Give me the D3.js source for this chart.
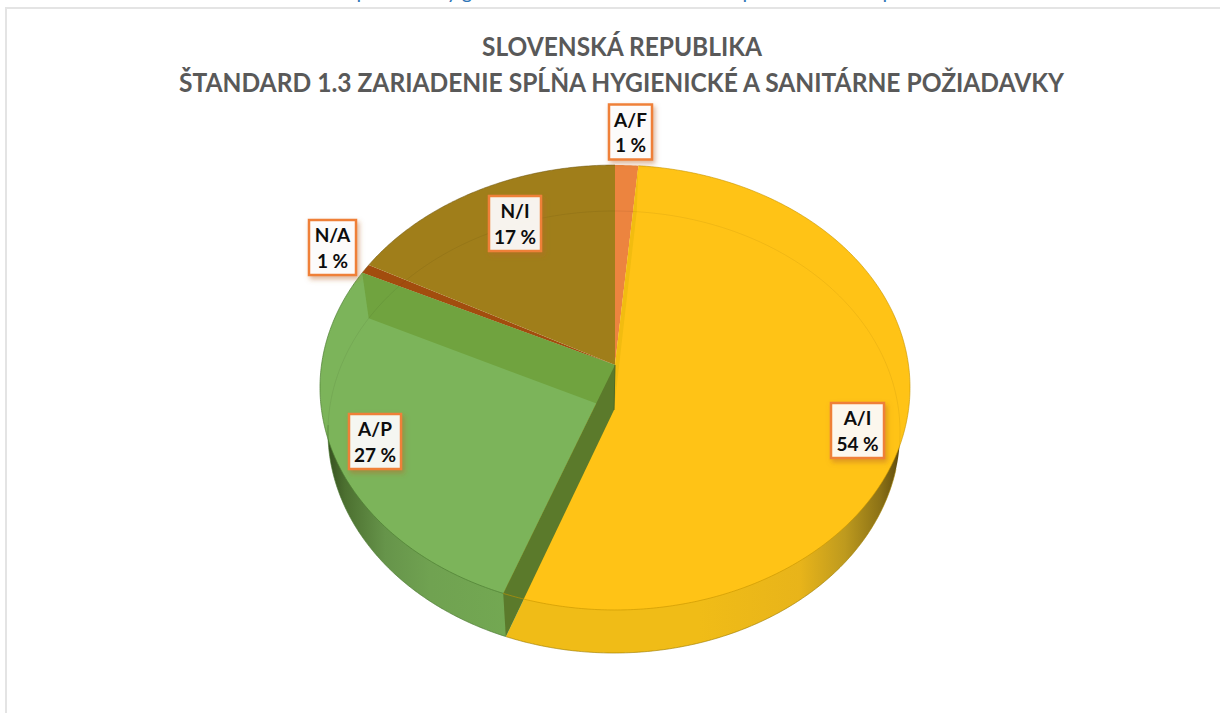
<!DOCTYPE html>
<html><head><meta charset="utf-8">
<script src="https://cdn.jsdelivr.net/npm/d3@7"></script>
<style>html,body{margin:0;padding:0;background:#fff;overflow:hidden}svg{display:block}</style>
</head><body><svg id="c" width="1220" height="713"></svg>
<script>
const titleLines = ["SLOVENSKÁ REPUBLIKA", "ŠTANDARD 1.3 ZARIADENIE SPĹŇA HYGIENICKÉ A SANITÁRNE POŽIADAVKY"];
const categories = ["A/F", "A/I", "A/P", "N/A", "N/I"];
const shares = [1.4, 54.2, 26.6, 0.7, 17.1];
const shareLabels = ["1 %", "54 %", "27 %", "1 %", "17 %"];
const faceColors = ["#EC843F", "#FFC316", "#7CB45A", "#A24D0E", "#A07E1A"];
const labelCentres = [[630.5, 132], [857.5, 430.5], [375, 441.5], [332.5, 247.5], [515, 223.5]];
const clippedGlyphs = [["p", 362], ["y", 452], ["g", 467], ["p", 748], ["p", 888]];

const svg = d3.select("#c");
const defs = svg.append("defs");
const FONT = "Lato, 'Open Sans', sans-serif";

function grad(id, stops) {
  const g = defs.append("linearGradient").attr("id", id).attr("gradientUnits", "userSpaceOnUse")
    .attr("x1", stops[0][0]).attr("x2", stops[stops.length - 1][0]).attr("y1", 0).attr("y2", 0);
  const x0 = stops[0][0], x1 = stops[stops.length - 1][0];
  stops.forEach(s => g.append("stop").attr("offset", (s[0] - x0) / (x1 - x0)).attr("stop-color", s[1]));
}
grad("wallY", [[700, "#F0BC17"], [800, "#E8B41A"], [845, "#BE9A1E"], [880, "#8C7216"], [895, "#6A5510"], [906, "#3F320A"]]);
grad("wallG", [[326, "#344D1E"], [345, "#4C7030"], [385, "#66944A"], [430, "#70A251"], [510, "#73A852"]]);
const fs = defs.append("filter").attr("id", "sh").attr("x", "-30%").attr("y", "-30%").attr("width", "170%").attr("height", "170%");
fs.append("feDropShadow").attr("dx", 2).attr("dy", 3).attr("stdDeviation", 2.5).attr("flood-color", "#B8662A").attr("flood-opacity", 0.5);

// Perspective projection of the pie: a circle seen from the front-top
const top_ = {cx: 615, ay: 365, k: 0.1011, rx: 293.5, ry: 220.2};
const bot_ = {cx: 614, ay: 410, k: 0.0996, rx: 284.6, ry: 218.8};
const proj = (E, a) => {
  const x = Math.sin(a), y = -Math.cos(a), w = 1 - E.k * y;
  return [E.cx + E.rx * x / w, E.ay + E.ry * y / w];
};
const rim = (E, a0, a1) => {
  const n = Math.max(2, Math.ceil(Math.abs(a1 - a0) / 0.01));
  return d3.range(n + 1).map(i => proj(E, a0 + (a1 - a0) * i / n));
};
const line = d3.line();
const apex = E => [E.cx, E.ay];
const sector = (E, a0, a1) => line([apex(E), ...rim(E, a0, a1)]) + "Z";

const arcs = d3.pie().sort(null).startAngle(0).endAngle(2 * Math.PI)(shares);
const [aF, aI, aP, nA, nI] = arcs;

// Frame
svg.append("rect").attr("x", 6).attr("y", 8).attr("width", 1230).attr("height", 720)
  .attr("fill", "#fff").attr("stroke", "#E4E4E4").attr("stroke-width", 2);

// Cut-off glyph tails of the page heading above the chart
svg.append("g").attr("font-family", FONT).attr("font-size", 20).attr("fill", "#2E75B6")
  .selectAll("text").data(clippedGlyphs).join("text")
  .attr("x", d => d[1]).attr("y", -1).attr("text-anchor", "middle").text(d => d[0]);

// Outer walls (bottom rim sector)
svg.append("path").attr("d", sector(bot_, aI.startAngle, aI.endAngle)).attr("fill", "url(#wallY)");
svg.append("path").attr("d", sector(bot_, aP.startAngle, aP.endAngle)).attr("fill", "url(#wallG)");

// Top faces
arcs.forEach((d, i) => {
  svg.append("path").attr("d", sector(top_, d.startAngle, d.endAngle)).attr("fill", faceColors[i]);
});

// Seen-through inner walls
const innerWall = a => line([apex(top_), proj(top_, a), proj(bot_, a), apex(bot_)]) + "Z";
svg.append("path").attr("d", innerWall(aI.startAngle)).attr("fill", "#F2BC10");
svg.append("path").attr("d", innerWall(aP.endAngle)).attr("fill", "#70A33F");
svg.append("path").attr("d", innerWall(aI.endAngle)).attr("fill", "#5B7A2B");
svg.append("path").attr("d", line([apex(top_), apex(bot_)])).attr("stroke", "#4F6A26").attr("stroke-width", 1);

// Rim lines
svg.append("path").attr("d", line(rim(bot_, 0, 2 * Math.PI)))
  .attr("fill", "none").attr("stroke", "#000").attr("stroke-opacity", 0.06).attr("stroke-width", 1);
svg.append("path").attr("d", line(rim(top_, aI.startAngle, aI.endAngle)))
  .attr("fill", "none").attr("stroke", "#C79400").attr("stroke-opacity", 0.6).attr("stroke-width", 1);
svg.append("path").attr("d", line(rim(top_, aP.startAngle, aP.endAngle)))
  .attr("fill", "none").attr("stroke", "#4E7F33").attr("stroke-opacity", 0.7).attr("stroke-width", 1);
svg.append("path").attr("d", line(rim(top_, nA.startAngle, nI.endAngle)))
  .attr("fill", "none").attr("stroke", "#6B5410").attr("stroke-opacity", 0.5).attr("stroke-width", 1);
svg.append("path").attr("d", line(rim(bot_, aI.startAngle + 1.75, aI.endAngle)))
  .attr("fill", "none").attr("stroke", "#A98600").attr("stroke-opacity", 0.6).attr("stroke-width", 1);
svg.append("path").attr("d", line(rim(bot_, aP.startAngle, aP.startAngle + 1.15)))
  .attr("fill", "none").attr("stroke", "#4E7F33").attr("stroke-opacity", 0.6).attr("stroke-width", 1);

// Title
const titleWidths = [280, 885];
svg.append("g").attr("font-family", FONT).attr("font-weight", 700).attr("font-size", 26).attr("fill", "#595959")
  .attr("text-anchor", "middle")
  .selectAll("text").data(titleLines).join("text")
  .attr("x", (d, i) => i ? 621.5 : 622).attr("y", (d, i) => i ? 92 : 56)
  .attr("textLength", (d, i) => titleWidths[i]).attr("lengthAdjust", "spacingAndGlyphs")
  .text(d => d);

// Labels
const lab = svg.append("g").selectAll("g").data(categories).join("g")
  .attr("transform", (d, i) => `translate(${labelCentres[i][0]},${labelCentres[i][1]})`);
const boxW = [43, 53, 52, 47, 52];
lab.append("rect")
  .attr("x", (d, i) => -boxW[i] / 2).attr("y", -27.5)
  .attr("width", (d, i) => boxW[i]).attr("height", 55)
  .attr("fill", "#FFFFFF").attr("fill-opacity", 0.9)
  .attr("stroke", "#EF8038").attr("stroke-width", 2.5).attr("filter", "url(#sh)");
lab.append("text").attr("text-anchor", "middle").attr("y", -5.5)
  .attr("font-family", FONT).attr("font-weight", 700).attr("font-size", 19).attr("fill", "#0D0D0D")
  .text(d => d);
lab.append("text").attr("text-anchor", "middle").attr("y", 20)
  .attr("font-family", FONT).attr("font-weight", 700).attr("font-size", 19).attr("fill", "#0D0D0D")
  .text((d, i) => shareLabels[i]);
</script></body></html>
